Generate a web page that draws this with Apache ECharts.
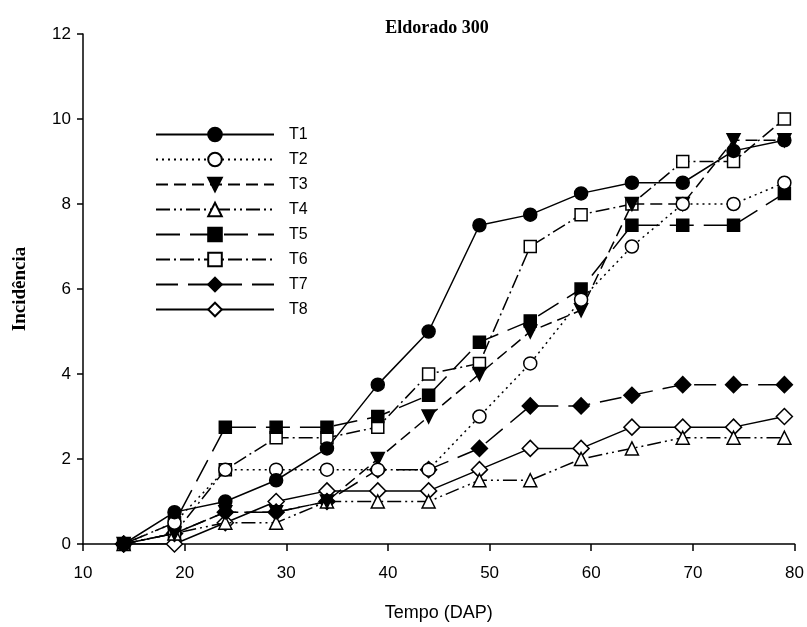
<!DOCTYPE html>
<html>
<head>
<meta charset="utf-8">
<script src="https://cdn.jsdelivr.net/npm/echarts@6/dist/echarts.min.js"></script>
<style>
  html, body { margin: 0; padding: 0; background: #fff; }
  #chart { width: 807px; height: 627px; }
</style>
</head>
<body>
<div id="chart"></div>
<script>
// dias apos plantio
const dap = [14, 19, 24, 29, 34, 39, 44, 49, 54, 59, 64, 69, 74, 79];

const t1 = [0, 0.75, 1.0, 1.5, 2.25, 3.75, 5.0, 7.5, 7.75, 8.25, 8.5, 8.5, 9.25, 9.5];
const t2 = [0, 0.5, 1.75, 1.75, 1.75, 1.75, 1.75, 3.0, 4.25, 5.75, 7.0, 8.0, 8.0, 8.5];
const t3 = [0, 0.25, 0.75, 0.75, 1.0, 2.0, 3.0, 4.0, 5.0, 5.5, 8.0, 8.0, 9.5, 9.5];
const t4 = [0, 0.25, 0.5, 0.5, 1.0, 1.0, 1.0, 1.5, 1.5, 2.0, 2.25, 2.5, 2.5, 2.5];
const t5 = [0, 0.5, 2.75, 2.75, 2.75, 3.0, 3.5, 4.75, 5.25, 6.0, 7.5, 7.5, 7.5, 8.25];
const t6 = [0, 0.25, 1.75, 2.5, 2.5, 2.75, 4.0, 4.25, 7.0, 7.75, 8.0, 9.0, 9.0, 10.0];
const t7 = [0, 0.25, 0.75, 0.75, 1.0, 1.75, 1.75, 2.25, 3.25, 3.25, 3.5, 3.75, 3.75, 3.75];
const t8 = [0, 0, 0.5, 1.0, 1.25, 1.25, 1.25, 1.75, 2.25, 2.25, 2.75, 2.75, 2.75, 3.0];

const names = ['T1', 'T2', 'T3', 'T4', 'T5', 'T6', 'T7', 'T8'];
const values = [t1, t2, t3, t4, t5, t6, t7, t8];

const pairs = (ys) => dap.map((x, i) => [x, ys[i]]);

// estilo de cada tratamento: simbolo, preenchido, tracejado
const styles = [
  { symbol: 'circle', size: 13, filled: true, dash: 'solid' },
  { symbol: 'circle', size: 13, filled: false, dash: [2, 4] },
  { symbol: 'triangle', size: 13, filled: true, dash: [12, 6], rotate: 180 },
  { symbol: 'triangle', size: 13, filled: false, dash: [14, 4, 2, 4, 2, 4] },
  { symbol: 'rect', size: 12, filled: true, dash: [24, 10] },
  { symbol: 'rect', size: 12, filled: false, dash: [14, 4, 2, 4] },
  { symbol: 'diamond', size: 16, filled: true, dash: [22, 10] },
  { symbol: 'diamond', size: 16, filled: false, dash: 'solid' },
];

const series = names.map((n, i) => {
  const s = styles[i];
  return {
    name: n,
    type: 'line',
    data: pairs(values[i]),
    symbol: s.symbol,
    symbolSize: s.size,
    symbolRotate: s.rotate || 0,
    z: 10 - i,
    lineStyle: { color: '#000', width: 1.5, type: s.dash },
    itemStyle: {
      color: s.filled ? '#000' : '#fff',
      borderColor: '#000',
      borderWidth: 1.5,
    },
    emphasis: { disabled: true },
  };
});

const chart = echarts.init(document.getElementById('chart'));
const option = {
  backgroundColor: '#fff',
  animation: false,
  title: {
    text: 'Eldorado 300',
    left: 432,
    top: 14,
    textAlign: 'center',
    textStyle: {
      fontFamily: 'Liberation Serif',
      fontWeight: 'bold',
      fontSize: 18,
      color: '#000',
    },
  },
  legend: {
    orient: 'vertical',
    left: 150,
    top: 121,
    itemWidth: 118,
    itemHeight: 17,
    itemGap: 8,
    data: names,
    textStyle: { fontFamily: 'Liberation Sans', fontSize: 16, color: '#000', padding: [0, 0, 0, 10], lineHeight: 17 },
  },
  grid: { left: 83, right: 10, top: 34, bottom: 82 },
  xAxis: {
    type: 'value',
    min: 10,
    max: 80,
    interval: 10,
    name: 'Tempo (DAP)',
    nameLocation: 'middle',
    nameGap: 60,
    nameTextStyle: { fontFamily: 'Liberation Sans', fontSize: 18, color: '#000' },
    axisLine: { lineStyle: { color: '#000', width: 1.5 } },
    axisTick: { length: 7, lineStyle: { color: '#000', width: 1.5 } },
    axisLabel: { fontFamily: 'Liberation Sans', fontSize: 17, color: '#000', margin: 21 },
    splitLine: { show: false },
  },
  yAxis: {
    type: 'value',
    min: 0,
    max: 12,
    interval: 2,
    name: 'Incidência',
    nameLocation: 'middle',
    nameGap: 53,
    nameTextStyle: { fontFamily: 'Liberation Serif', fontWeight: 'bold', fontSize: 19, color: '#000' },
    axisLine: { show: true, lineStyle: { color: '#000', width: 1.5 } },
    axisTick: { show: true, length: 6, lineStyle: { color: '#000', width: 1.5 } },
    axisLabel: { fontFamily: 'Liberation Sans', fontSize: 17, color: '#000', margin: 12 },
    splitLine: { show: false },
  },
  series: series,
};
chart.setOption(option);
</script>
</body>
</html>
